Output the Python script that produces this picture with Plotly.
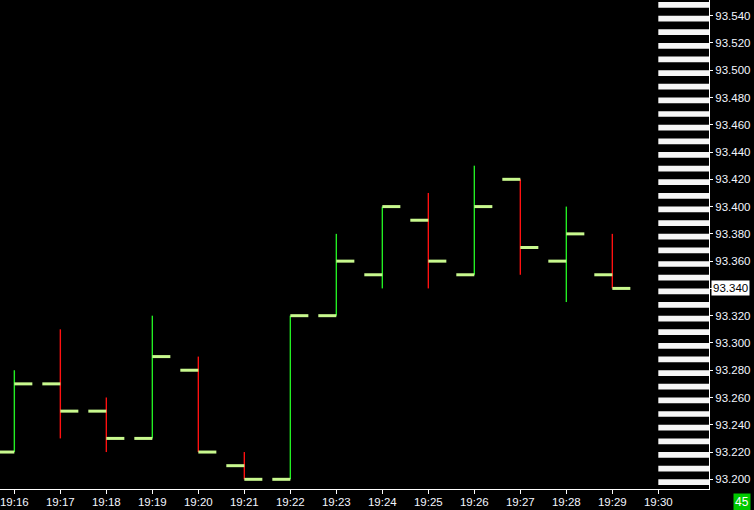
import plotly.graph_objects as go
import pandas as pd

# ---- data ----
times = ["19:16", "19:17", "19:18", "19:19", "19:20", "19:21", "19:22",
         "19:23", "19:24", "19:25", "19:26", "19:27", "19:28", "19:29"]
opens  = [93.22, 93.27, 93.25, 93.23, 93.28, 93.21, 93.20, 93.32, 93.35, 93.39, 93.35, 93.42, 93.36, 93.35]
highs  = [93.28, 93.31, 93.26, 93.32, 93.29, 93.22, 93.32, 93.38, 93.40, 93.41, 93.43, 93.42, 93.40, 93.38]
lows   = [93.22, 93.23, 93.22, 93.23, 93.22, 93.20, 93.20, 93.32, 93.34, 93.34, 93.35, 93.35, 93.33, 93.34]
closes = [93.27, 93.25, 93.23, 93.29, 93.22, 93.20, 93.32, 93.36, 93.40, 93.36, 93.40, 93.37, 93.38, 93.34]
tick_labels = ["19:16", "19:17", "19:18", "19:19", "19:20", "19:21", "19:22", "19:23",
               "19:24", "19:25", "19:26", "19:27", "19:28", "19:29", "19:30"]
last_price = 93.34
counter_text = "45"

day = "2024-01-01 "
ts = [pd.Timestamp(day + t) for t in times]
tick_ts = [pd.Timestamp(day + t) for t in tick_labels]

# ---- style ----
BG = "#000000"
UP = "#22ee22"
DN = "#ff1010"
TICK = "#c8f88e"
TXT = "#f2f6ff"
tick_len = pd.Timedelta(seconds=23.5)

up_x, up_y, dn_x, dn_y, tk_x, tk_y = [], [], [], [], [], []
for t, o, h, l, c in zip(ts, opens, highs, lows, closes):
    if c >= o:
        up_x += [t, t, None]; up_y += [l, h, None]
    else:
        dn_x += [t, t, None]; dn_y += [l, h, None]
    tk_x += [t - tick_len, t, None, t, t + tick_len, None]
    tk_y += [o, o, None, c, c, None]

fig = go.Figure()
fig.add_trace(go.Scatter(x=up_x, y=up_y, mode="lines", line=dict(color=UP, width=1.4),
                         hoverinfo="skip", showlegend=False))
fig.add_trace(go.Scatter(x=dn_x, y=dn_y, mode="lines", line=dict(color=DN, width=1.4),
                         hoverinfo="skip", showlegend=False))
fig.add_trace(go.Scatter(x=tk_x, y=tk_y, mode="lines", line=dict(color=TICK, width=3),
                         hoverinfo="skip", showlegend=False))

x_start = pd.Timestamp(day + "19:15:41.3")
x_end = pd.Timestamp(day + "19:31:06.1")

# price ladder stripes
shapes = []
for i in range(36):
    p = 93.20 + i * 0.01
    shapes.append(dict(type="rect", xref="x", yref="y", x0=tick_ts[-1], x1=x_end,
                       y0=p - 0.0042, y1=p, fillcolor="#f6f6f6", line=dict(width=0),
                       layer="below"))

y_ticks = [round(93.20 + 0.02 * i, 3) for i in range(18)]
y_ticktext = ["" if abs(v - last_price) < 1e-9 else f"{v:.3f}" for v in y_ticks]

fig.update_layout(
    width=754, height=510,
    paper_bgcolor=BG, plot_bgcolor=BG,
    margin=dict(l=0, r=45, t=0, b=21),
    shapes=shapes,
    xaxis=dict(range=[x_start, x_end], type="date", tickvals=tick_ts, ticktext=tick_labels,
               showgrid=False, zeroline=False, showline=True, linecolor="#ffffff", linewidth=1,
               ticks="outside", ticklen=4, tickcolor="#ffffff", automargin=False,
               ticklabeloverflow="allow", ticklabelstandoff=-2,
               tickfont=dict(family="Liberation Sans", size=11.5, color=TXT)),
    yaxis=dict(range=[93.1929, 93.5515], side="right", tickvals=y_ticks,
               ticktext=y_ticktext, automargin=False, ticklabeloverflow="allow",
               showgrid=False, zeroline=False, showline=True, linecolor="#ffffff", linewidth=1,
               ticks="outside", ticklen=3, tickcolor="#ffffff",
               tickfont=dict(family="Liberation Sans", size=11.5, color=TXT)),
    annotations=[
        dict(xref="paper", yref="y", x=1, y=last_price, xanchor="left", yanchor="middle",
             xshift=2, text=f"{last_price:.3f}", showarrow=False, bgcolor="#ffffff",
             borderpad=1, font=dict(family="Liberation Sans", size=11.5, color="#000000")),
        dict(xref="paper", yref="paper", x=1, y=0, xanchor="right", yanchor="top",
             xshift=42, yshift=-4, text=counter_text, showarrow=False, bgcolor="#00c800",
             borderpad=1, font=dict(family="Liberation Sans", size=12, color="#ffffff")),
    ],
)

fig.write_html("out.html", config={"displayModeBar": False},
               post_script="document.body.style.margin='0';document.body.style.overflow='hidden';")
